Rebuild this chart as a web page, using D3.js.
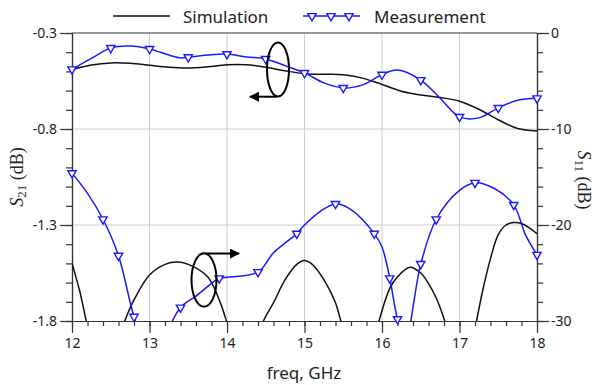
<html>
<head>
	<meta charset="utf-8">
	<title>S21 / S11</title>
	<script src="https://cdn.jsdelivr.net/npm/d3@7/dist/d3.min.js"></script>
</head>
<body>
	<div id="svgDiv"></div>
<script>
	// width and height
	var w = 596;
	var h = 385;
	var margin = { left: 72, right: 59, top: 33, bottom: 64 };

	// measured S21 (dB), left axis
	var measS21Freq = [12, 12.25, 12.5, 12.75, 13, 13.25, 13.4, 13.5, 13.75, 14, 14.25, 14.5, 14.75, 15,
		15.25, 15.5, 15.75, 16, 16.2, 16.5, 16.75, 17, 17.25, 17.5, 17.75, 18];
	var measS21 = [-0.489, -0.432, -0.378, -0.368, -0.383, -0.415, -0.43, -0.426, -0.415, -0.41, -0.425, -0.435,
		-0.47, -0.508, -0.56, -0.586, -0.57, -0.517, -0.493, -0.545, -0.64, -0.737, -0.742, -0.69, -0.65, -0.64];
	var measS21Markers = [12, 12.5, 13, 13.5, 14, 14.5, 15, 15.5, 16, 16.5, 17, 17.5, 18];

	// simulated S21 (dB)
	var simS21Freq = [12, 12.25, 12.5, 12.75, 13, 13.25, 13.5, 13.75, 14, 14.25, 14.5, 14.75, 15, 15.25, 15.5,
		15.75, 16, 16.25, 16.5, 16.75, 17, 17.25, 17.5, 17.75, 18];
	var simS21 = [-0.49, -0.467, -0.456, -0.458, -0.468, -0.478, -0.482, -0.476, -0.466, -0.466, -0.478, -0.497,
		-0.512, -0.515, -0.517, -0.535, -0.568, -0.603, -0.623, -0.636, -0.655, -0.697, -0.752, -0.797, -0.81];

	// measured S11 (dB), right axis
	var measS11Freq = [12, 12.2, 12.4, 12.6, 12.8, 13, 13.2, 13.4, 13.6, 13.9, 14, 14.4, 14.6, 14.9, 15, 15.2,
		15.4, 15.6, 15.9, 16, 16.1, 16.2, 16.3, 16.5, 16.7, 17, 17.2, 17.45, 17.7, 17.85, 18];
	var measS11 = [-14.6, -16.7, -19.4, -23.2, -29.55, -34, -31.5, -28.6, -27.4, -25.55, -25.45, -24.9, -22.9,
		-20.9, -20, -18.6, -17.8, -18.4, -20.9, -22.3, -25.55, -29.8, -32, -24.06, -19.4, -16.4, -15.6, -16.2,
		-17.9, -21, -23.1];
	var measS11Markers = [12, 12.4, 12.6, 12.8, 13.4, 13.9, 14.4, 14.9, 15.4, 15.9, 16.1, 16.2, 16.5, 16.7,
		17.2, 17.7, 18];

	// simulated S11 (dB), null = gap between lobes
	var simS11Freq = [12, 12.1, 12.2, 12.3, 12.4,
		12.55, 12.68, 12.8, 13, 13.2, 13.35, 13.5, 13.75, 13.9, 14, 14.1, 14.2,
		14.35, 14.47, 14.6, 14.75, 14.9, 15, 15.1, 15.25, 15.4, 15.47, 15.6, 15.7,
		15.85, 15.96, 16.1, 16.2, 16.36, 16.5, 16.6, 16.7, 16.81, 16.9, 17,
		17.15, 17.22, 17.3, 17.4, 17.5, 17.6, 17.7, 17.8, 17.9, 18];
	var simS11 = [-24, -26.9, -30.6, -34, null,
		-33, -30, -27.8, -25.2, -24.1, -23.85, -24.1, -25.4, -27.8, -30.2, -33, null,
		-33, -30, -28.1, -25.7, -24.1, -23.7, -24.1, -25.7, -28.1, -30, -33, null,
		-33, -30, -26.6, -25.4, -24.4, -25, -26.1, -27.6, -30, -32.5, null,
		-33, -30, -26.8, -23.5, -21, -20, -19.75, -19.85, -20.3, -20.9];

	var xTicks = [12, 13, 14, 15, 16, 17, 18];
	var s21Ticks = [-0.3, -0.8, -1.3, -1.8];
	var s11Ticks = [0, -10, -20, -30];

	var x = d3.scaleLinear().domain([12, 18]).range([margin.left, w - margin.right]);
	var yL = d3.scaleLinear().domain([-1.8, -0.3]).range([h - margin.bottom, margin.top]);
	var yR = d3.scaleLinear().domain([-30, 0]).range([h - margin.bottom, margin.top]);

	var svg = d3.select("#svgDiv")
		.append("svg")
		.attr("width", w)
		.attr("height", h);

	svg.append("clipPath").attr("id", "plotClip")
		.append("rect")
		.attr("x", margin.left)
		.attr("y", margin.top)
		.attr("width", w - margin.left - margin.right)
		.attr("height", h - margin.top - margin.bottom);

	// grid
	var grid = svg.append("g").attr("class", "grid");
	grid.selectAll("line.vx").data(xTicks.slice(1, -1))
		.enter().append("line")
		.attr("x1", function (d) { return x(d); })
		.attr("x2", function (d) { return x(d); })
		.attr("y1", margin.top)
		.attr("y2", h - margin.bottom);
	grid.selectAll("line.hy").data([-0.8, -1.3])
		.enter().append("line")
		.attr("x1", margin.left)
		.attr("x2", w - margin.right)
		.attr("y1", function (d) { return yL(d); })
		.attr("y2", function (d) { return yL(d); });

	// minor ticks
	var xMinor = d3.range(12, 18.001, 0.2).map(function (d) { return +d.toFixed(1); });
	var lMinor = d3.range(-1.8, -0.299, 0.1).map(function (d) { return +d.toFixed(1); });
	var rMinor = d3.range(-30, 0.001, 2);

	svg.append("g").attr("class", "axis minor")
		.attr("transform", "translate(0," + (h - margin.bottom) + ")")
		.call(d3.axisBottom(x).tickValues(xMinor).tickSize(5).tickSizeOuter(0).tickFormat(""));
	svg.append("g").attr("class", "axis minor")
		.attr("transform", "translate(" + margin.left + ",0)")
		.call(d3.axisLeft(yL).tickValues(lMinor).tickSize(6).tickSizeOuter(0).tickFormat(""));
	svg.append("g").attr("class", "axis minor")
		.attr("transform", "translate(" + (w - margin.right) + ",0)")
		.call(d3.axisRight(yR).tickValues(rMinor).tickSize(6).tickSizeOuter(0).tickFormat(""));

	// major axes
	svg.append("g").attr("class", "axis")
		.attr("transform", "translate(0," + (h - margin.bottom) + ")")
		.call(d3.axisBottom(x).tickValues(xTicks).tickSize(12).tickSizeOuter(0).tickPadding(5)
			.tickFormat(function (d) { return String(d); }));
	svg.append("g").attr("class", "axis")
		.attr("transform", "translate(" + margin.left + ",0)")
		.call(d3.axisLeft(yL).tickValues(s21Ticks).tickSize(12).tickSizeOuter(0).tickPadding(3)
			.tickFormat(function (d) { return d.toFixed(1); }));
	svg.append("g").attr("class", "axis")
		.attr("transform", "translate(" + (w - margin.right) + ",0)")
		.call(d3.axisRight(yR).tickValues(s11Ticks).tickSize(12).tickSizeOuter(0).tickPadding(2)
			.tickFormat(function (d) { return d === 0 ? "0" : "-" + Math.abs(d); }));

	// top frame
	svg.append("line").attr("class", "frame")
		.attr("x1", margin.left).attr("x2", w - margin.right)
		.attr("y1", margin.top).attr("y2", margin.top);

	// curves
	var plot = svg.append("g").attr("clip-path", "url(#plotClip)");

	function zipPts(fs, vs) {
		return fs.map(function (f, i) { return [f, vs[i]]; });
	}

	var lineL = d3.line()
		.x(function (d) { return x(d[0]); })
		.y(function (d) { return yL(d[1]); })
		.curve(d3.curveCatmullRom.alpha(0.5));
	var lineR = d3.line()
		.defined(function (d) { return d[1] !== null; })
		.x(function (d) { return x(d[0]); })
		.y(function (d) { return yR(d[1]); })
		.curve(d3.curveCatmullRom.alpha(0.5));

	plot.append("path").attr("class", "sim").attr("d", lineL(zipPts(simS21Freq, simS21)));
	plot.append("path").attr("class", "sim").attr("d", lineR(zipPts(simS11Freq, simS11)));
	plot.append("path").attr("class", "meas").attr("d", lineL(zipPts(measS21Freq, measS21)));
	plot.append("path").attr("class", "meas").attr("d", lineR(zipPts(measS11Freq, measS11)));

	// triangle markers
	var tri = d3.symbol().type(d3.symbolTriangle).size(30);
	function drawMarkers(fs, vs, marks, ys) {
		svg.append("g").selectAll("path")
			.data(marks)
			.enter().append("path")
			.attr("class", "marker")
			.attr("d", tri)
			.attr("transform", function (m) {
				var v = vs[fs.indexOf(m)];
				return "translate(" + x(m) + "," + ys(v) + ") rotate(180)";
			});
	}
	drawMarkers(measS21Freq, measS21, measS21Markers, yL);
	drawMarkers(measS11Freq, measS11, measS11Markers, yR);

	// annotations: ellipses with arrows
	svg.append("defs").append("marker")
		.attr("id", "arrow")
		.attr("viewBox", "0 0 10 10")
		.attr("refX", 9).attr("refY", 5)
		.attr("markerWidth", 5).attr("markerHeight", 5)
		.attr("orient", "auto")
		.append("path").attr("d", "M0,0 L10,5 L0,10 z").attr("fill", "#000");

	svg.append("ellipse").attr("class", "anno")
		.attr("cx", 278).attr("cy", 69.5).attr("rx", 11).attr("ry", 27);
	svg.append("line").attr("class", "anno")
		.attr("x1", 277).attr("y1", 96.7).attr("x2", 250).attr("y2", 96.7)
		.attr("marker-end", "url(#arrow)");

	svg.append("ellipse").attr("class", "anno")
		.attr("cx", 204).attr("cy", 280).attr("rx", 12.5).attr("ry", 26.7);
	svg.append("line").attr("class", "anno")
		.attr("x1", 205).attr("y1", 253.5).attr("x2", 239).attr("y2", 253.5)
		.attr("marker-end", "url(#arrow)");

	// axis titles
	var tl = svg.append("text").attr("class", "ytitle")
		.attr("transform", "translate(17,177) rotate(-90)");
	tl.append("tspan").attr("font-style", "italic").text("S");
	tl.append("tspan").attr("font-size", "13px").attr("dy", 4).text("21");
	tl.append("tspan").attr("dy", -4).text(" (dB)");

	var tr = svg.append("text").attr("class", "ytitle")
		.attr("transform", "translate(584,180) rotate(90)");
	tr.append("tspan").attr("font-style", "italic").text("S");
	tr.append("tspan").attr("font-size", "13px").attr("dy", 4).text("11");
	tr.append("tspan").attr("dy", -4).text(" (dB)");

	svg.append("text").attr("class", "xtitle")
		.attr("x", 304).attr("y", 379)
		.attr("text-anchor", "middle")
		.text("freq, GHz");

	// legend
	var legend = svg.append("g").attr("class", "legend");
	legend.append("line").attr("class", "sim")
		.attr("x1", 113).attr("x2", 170).attr("y1", 16).attr("y2", 16);
	legend.append("text").attr("x", 183).attr("y", 22.5).text("Simulation");
	legend.append("line").attr("class", "meas")
		.attr("x1", 303).attr("x2", 360).attr("y1", 16).attr("y2", 16);
	legend.selectAll("path.lm").data([312, 331, 349])
		.enter().append("path")
		.attr("class", "marker")
		.attr("d", tri)
		.attr("transform", function (d) { return "translate(" + d + ",16) rotate(180)"; });
	legend.append("text").attr("x", 374).attr("y", 22.5).text("Measurement");
</script>
<style>
	body,
	html {
		margin: 0;
		overflow: hidden;
		background: #fff;
	}

	.grid line {
		stroke: #d0d0d0;
		stroke-width: 1;
	}

	.axis path,
	.axis line,
	.frame {
		stroke: #333;
		stroke-width: 1.2;
		fill: none;
	}

	.axis text {
		font-family: "Noto Sans", sans-serif;
		font-size: 14px;
		fill: #222;
	}

	.sim {
		fill: none;
		stroke: #111;
		stroke-width: 1.5;
	}

	.meas {
		fill: none;
		stroke: #1a1aff;
		stroke-width: 1.5;
	}

	.marker {
		fill: #fff;
		stroke: #1a1aff;
		stroke-width: 1.4;
	}

	.anno {
		fill: none;
		stroke: #000;
		stroke-width: 2;
	}

	.ytitle {
		font-family: "Liberation Serif", serif;
		font-size: 18px;
		text-anchor: middle;
		dominant-baseline: central;
		fill: #222;
	}

	.xtitle,
	.legend text {
		font-family: "Noto Sans", sans-serif;
		font-size: 17px;
		fill: #222;
	}
</style>
</html>
